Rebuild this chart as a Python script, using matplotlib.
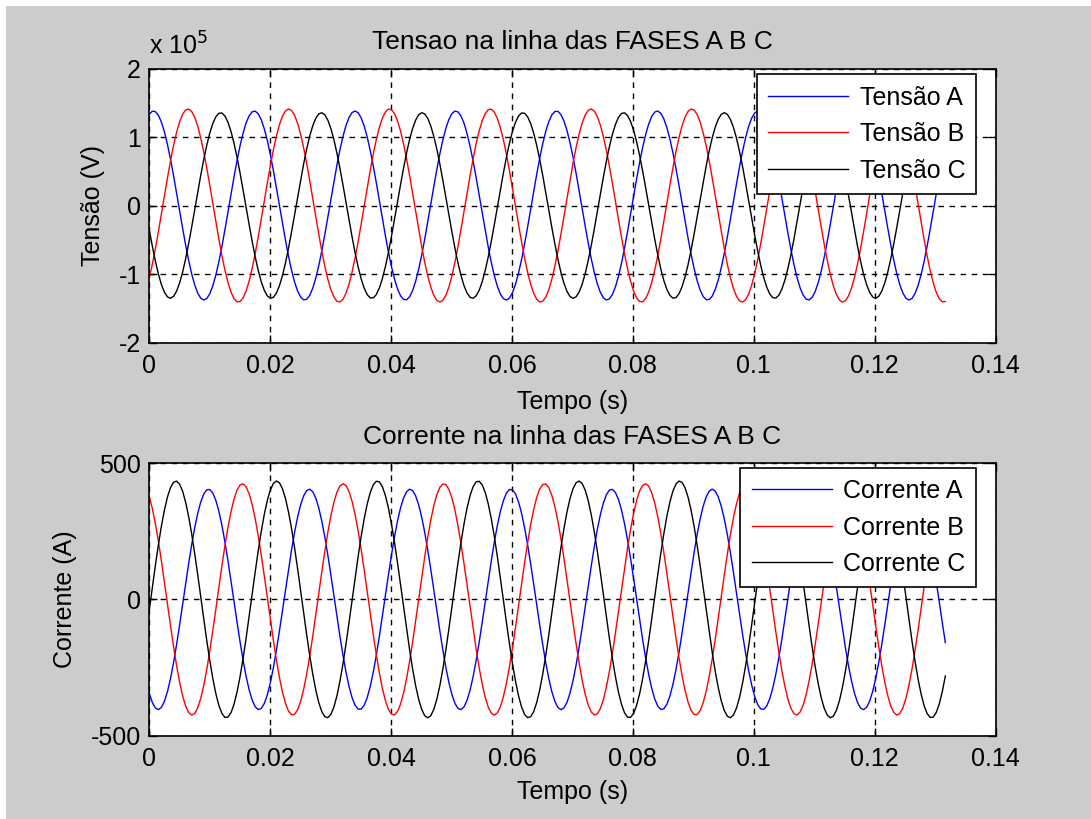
import numpy as np
import matplotlib
matplotlib.use('Agg')
from matplotlib import pyplot as plt
from matplotlib.ticker import FuncFormatter, FixedLocator
from matplotlib.patches import Rectangle

# 60 Hz phases, peak amplitude and time of first peak
freq = 60.0
t_end = 0.1317
n_amostras = 264

tensao_labels = ['Tensão A', 'Tensão B', 'Tensão C']
tensao_amp = [1.38e5, 1.41e5, 1.355e5]
tensao_peak_t = [0.0007, 0.0064, 0.0118]

corrente_labels = ['Corrente A', 'Corrente B', 'Corrente C']
corrente_amp = [405.0, 425.0, 435.0]
corrente_peak_t = [0.0098, 0.0154, 0.0044]

colors = ['#0000ff', '#ff0000', '#000000']

x_ticks = [0, 0.02, 0.04, 0.06, 0.08, 0.1, 0.12, 0.14]
v_ticks = [-2e5, -1e5, 0, 1e5, 2e5]
i_ticks = [-500, 0, 500]

FONT = 'Liberation Sans'
FS = 18
BG = '#cccccc'

plt.rcParams['font.family'] = [FONT, 'DejaVu Sans']
plt.rcParams['font.size'] = FS


def fmt_num(v, pos=None):
    return '%g' % v


def style_axes(ax, yticks, yfmt):
    ax.set_xlim(0, 0.14)
    ax.xaxis.set_major_locator(FixedLocator(x_ticks))
    ax.yaxis.set_major_locator(FixedLocator(yticks))
    ax.xaxis.set_major_formatter(FuncFormatter(fmt_num))
    ax.yaxis.set_major_formatter(FuncFormatter(yfmt))
    ax.tick_params(direction='in', length=6, width=1, top=True, right=True,
                   labelsize=FS, colors='black')
    ax.tick_params(axis='x', pad=8)
    ax.tick_params(axis='y', pad=6)
    ax.grid(True, color='black', linestyle=(0, (4, 4)), linewidth=1)
    for sp in ax.spines.values():
        sp.set_linewidth(1.2)
        sp.set_color('black')
    ax.set_facecolor('white')


def legenda(ax, top):
    leg = ax.legend(loc='upper right', bbox_to_anchor=(0.9775, top), borderaxespad=0,
                    fancybox=False, framealpha=1, edgecolor='black', fontsize=FS,
                    handlelength=3.2, labelspacing=0.5, handletextpad=0.45,
                    borderpad=0.45)
    leg.get_frame().set_linewidth(1.2)
    return leg


def sinal(amp, peak_t, t):
    return amp * np.cos(2 * np.pi * freq * (t - peak_t))


t = np.linspace(0, t_end, n_amostras)

fig = plt.figure(figsize=(10.91, 8.19), dpi=100, facecolor=BG)
fig.patches.append(Rectangle((0, 0), 6 / 1091, 1, transform=fig.transFigure,
                             facecolor='white', edgecolor='none', zorder=-1))
fig.patches.append(Rectangle((0, 1 - 6 / 819), 1, 6 / 819, transform=fig.transFigure,
                             facecolor='white', edgecolor='none', zorder=-1))

ax1 = fig.add_axes([149.3 / 1091, 1 - 342.5 / 819, (995.5 - 149.3) / 1091, (342.5 - 68.5) / 819])
ax2 = fig.add_axes([149.3 / 1091, 1 - 735.5 / 819, (995.5 - 149.3) / 1091, (735.5 - 463.3) / 819])

# Tensoes
for lab, a, p, c in zip(tensao_labels, tensao_amp, tensao_peak_t, colors):
    ax1.plot(t, sinal(a, p, t), color=c, linewidth=1.0, label=lab)
ax1.set_ylim(-2e5, 2e5)
style_axes(ax1, v_ticks, lambda v, pos=None: '%g' % (v / 1e5))
ax1.set_title('Tensao na linha das FASES A B C', fontsize=19, pad=14)
ax1.set_xlabel('Tempo (s)', fontsize=FS, labelpad=9)
ax1.set_ylabel('Tensão (V)', fontsize=FS, labelpad=10)
ax1.annotate(r'x 10$^{5}$', xy=(0, 1), xycoords='axes fraction',
             xytext=(0, 10), textcoords='offset points', fontsize=FS,
             ha='left', va='baseline')
legenda(ax1, 0.979)

# Correntes
for lab, a, p, c in zip(corrente_labels, corrente_amp, corrente_peak_t, colors):
    ax2.plot(t, sinal(a, p, t), color=c, linewidth=1.0, label=lab)
ax2.set_ylim(-500, 500)
style_axes(ax2, i_ticks, fmt_num)
ax2.set_title('Corrente na linha das FASES A B C', fontsize=19, pad=14)
ax2.set_xlabel('Tempo (s)', fontsize=FS, labelpad=7)
ax2.set_ylabel('Corrente (A)', fontsize=FS, labelpad=10)
legenda(ax2, 0.983)

fig.savefig('out.png', dpi=100, facecolor=BG)
